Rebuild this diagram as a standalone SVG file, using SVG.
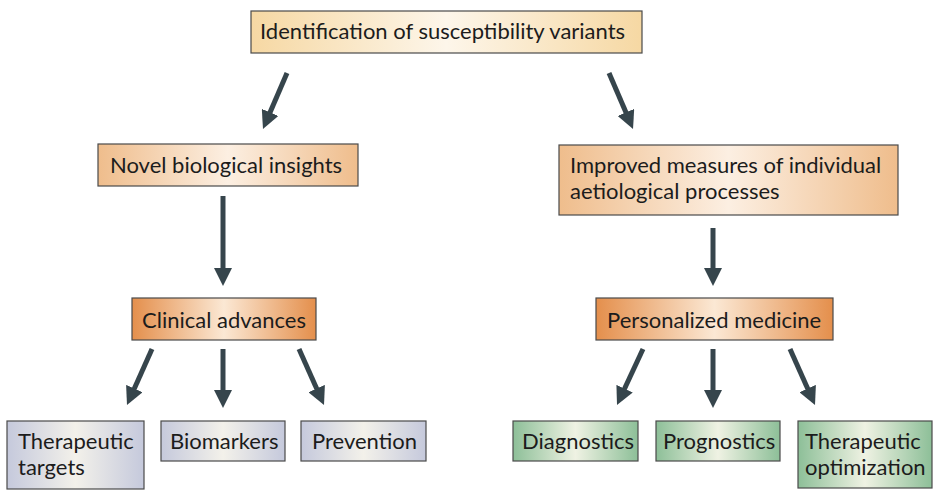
<svg xmlns="http://www.w3.org/2000/svg" width="937" height="500" viewBox="0 0 937 500">
<defs>
<linearGradient id="gTop" x1="0" y1="0" x2="1" y2="0">
<stop offset="0" stop-color="#f6d8a3"/><stop offset="0.5" stop-color="#fdf6ea"/><stop offset="1" stop-color="#f6d8a3"/>
</linearGradient>
<linearGradient id="gMid" x1="0" y1="0" x2="1" y2="0">
<stop offset="0" stop-color="#efbd8c"/><stop offset="0.5" stop-color="#fcefe2"/><stop offset="1" stop-color="#efbd8c"/>
</linearGradient>
<linearGradient id="gDark" x1="0" y1="0" x2="1" y2="0">
<stop offset="0" stop-color="#e48f4c"/><stop offset="0.5" stop-color="#fbe8d4"/><stop offset="1" stop-color="#e48f4c"/>
</linearGradient>
<linearGradient id="gBlue" x1="0" y1="0" x2="1" y2="0">
<stop offset="0" stop-color="#c5c9dc"/><stop offset="0.5" stop-color="#f3f1ea"/><stop offset="1" stop-color="#c5c9dc"/>
</linearGradient>
<linearGradient id="gGreen" x1="0" y1="0" x2="1" y2="0">
<stop offset="0" stop-color="#8dbf98"/><stop offset="0.5" stop-color="#eff2e3"/><stop offset="1" stop-color="#8dbf98"/>
</linearGradient>
<marker id="ah" markerUnits="userSpaceOnUse" markerWidth="18" markerHeight="18" refX="4" refY="9" orient="auto" viewBox="0 0 18 18">
<path d="M0,0 L18,9 L0,18 z" fill="#36454c"/>
</marker>
</defs>
<style>
.box{stroke:#4a4a4a;stroke-width:1.2}
.t{font-family:Lato,"Open Sans","Liberation Sans",sans-serif;font-size:22px;fill:#1c1c1c}
.c{stroke:#36454c;stroke-width:5;fill:none;marker-end:url(#ah)}
</style>
<g id="connectors">
<line class="c" x1="287" y1="73" x2="268.5" y2="116.1"/>
<line class="c" x1="609" y1="73" x2="627.5" y2="116.1"/>
<line class="c" x1="223" y1="196" x2="223" y2="272"/>
<line class="c" x1="713" y1="228" x2="713" y2="272"/>
<line class="c" x1="152" y1="349" x2="132.7" y2="392.2"/>
<line class="c" x1="223" y1="349" x2="223" y2="394"/>
<line class="c" x1="299" y1="349" x2="318.3" y2="392.2"/>
<line class="c" x1="643" y1="349" x2="622.9" y2="392.3"/>
<line class="c" x1="713" y1="349" x2="713" y2="394"/>
<line class="c" x1="790" y1="349" x2="809.3" y2="392.2"/>
</g>
<g id="n-identification">
<rect class="box" x="251" y="11" width="391" height="42" fill="url(#gTop)"/>
<text class="t" x="260" y="39">Identification of susceptibility variants</text>
</g>
<g id="n-novel">
<rect class="box" x="98" y="144" width="260" height="42" fill="url(#gMid)"/>
<text class="t" x="110" y="173">Novel biological insights</text>
</g>
<g id="n-improved">
<rect class="box" x="559" y="145" width="339" height="70" fill="url(#gMid)"/>
<text class="t" x="570" y="173">Improved measures of individual</text>
<text class="t" x="570" y="199">aetiological processes</text>
</g>
<g id="n-clinical">
<rect class="box" x="132" y="298" width="184" height="42" fill="url(#gDark)"/>
<text class="t" x="142" y="328">Clinical advances</text>
</g>
<g id="n-personalized">
<rect class="box" x="596" y="298" width="237" height="42" fill="url(#gDark)"/>
<text class="t" x="607" y="328">Personalized medicine</text>
</g>
<g id="n-targets">
<rect class="box" x="7" y="421" width="137" height="68" fill="url(#gBlue)"/>
<text class="t" x="18" y="449">Therapeutic</text>
<text class="t" x="18" y="475">targets</text>
</g>
<g id="n-biomarkers">
<rect class="box" x="161" y="421" width="124" height="40" fill="url(#gBlue)"/>
<text class="t" x="170" y="449">Biomarkers</text>
</g>
<g id="n-prevention">
<rect class="box" x="301" y="421" width="125" height="40" fill="url(#gBlue)"/>
<text class="t" x="312" y="449">Prevention</text>
</g>
<g id="n-diagnostics">
<rect class="box" x="513" y="421" width="125" height="40" fill="url(#gGreen)"/>
<text class="t" x="522" y="449">Diagnostics</text>
</g>
<g id="n-prognostics">
<rect class="box" x="656" y="421" width="124" height="40" fill="url(#gGreen)"/>
<text class="t" x="663" y="449">Prognostics</text>
</g>
<g id="n-optimization">
<rect class="box" x="798" y="421" width="134" height="67" fill="url(#gGreen)"/>
<text class="t" x="805" y="449">Therapeutic</text>
<text class="t" x="805" y="475">optimization</text>
</g>
</svg>
